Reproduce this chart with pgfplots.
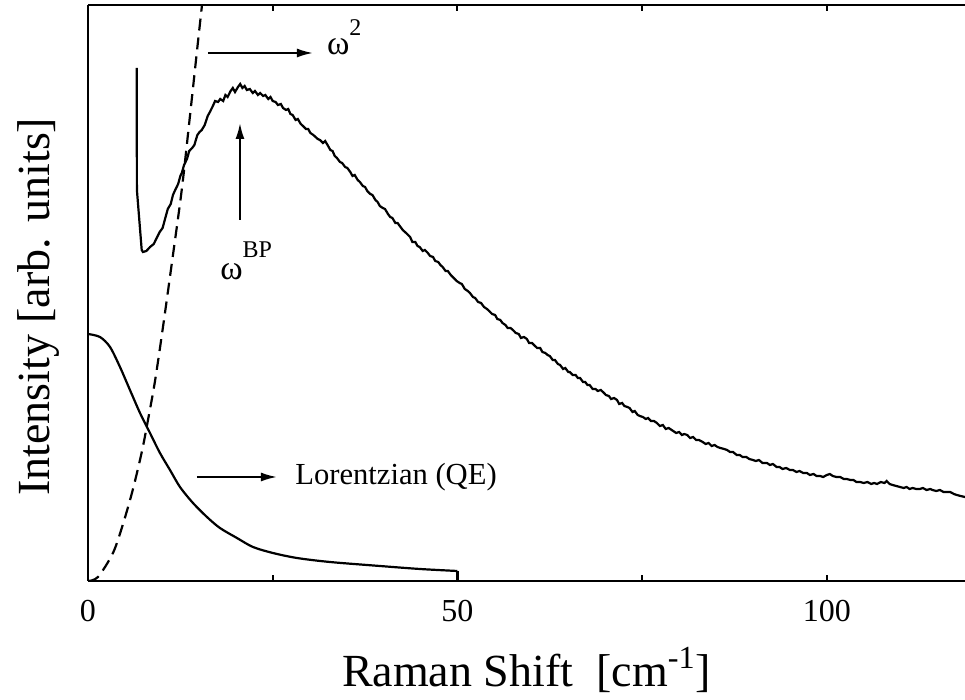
\documentclass[border=0pt]{standalone}
\usepackage{pgfplots}
\usepackage{pgfplotstable}
\pgfplotsset{compat=1.18}
\usepackage{fontspec}
\setmainfont{Liberation Serif}
\usetikzlibrary{arrows.meta}

% Measured Raman spectrum (arbitrary intensity units)
\pgfplotstableread{
x y
6.59 513
6.62 391
7.27 331
7.44 329
7.9 330
8.4 334
8.9 337
9.3 343
9.7 349
10.1 353
10.5 364
10.8 372
11.2 377
11.5 386
11.8 391
12.2 397
12.5 405
12.7 408
13.0 416
13.4 422
13.7 430
14.1 433
14.4 436
14.8 446
15.1 449
15.4 451
15.8 456
16.2 465
16.5 469
16.9 475
17.2 480
17.6 479
17.9 482
18.3 480
18.6 486
18.9 484
19.3 490
19.6 493
19.9 489
20.3 494
20.6 497
20.9 493
21.2 495
21.5 491
21.9 492
22.3 488
22.6 490
23.0 486
23.3 488
23.7 485
24.0 486
24.4 482
24.7 484
25.0 480
25.4 479
25.7 476
26.1 477
26.4 473
26.8 471
27.1 472
27.4 467
27.7 466
28.1 461
28.4 462
28.8 457
29.1 455
29.5 452
29.8 452
30.1 448
30.5 446
30.8 444
31.1 442
31.4 441
31.8 438
32.1 440
32.5 435
32.8 431
33.1 430
33.4 425
33.7 423
34.1 419
34.4 418
34.8 414
35.1 413
35.5 409
35.8 405
36.1 406
36.5 401
36.8 399
37.2 395
37.5 394
37.8 390
38.2 387
38.5 386
38.9 381
39.2 379
39.5 375
39.9 373
40.2 372
40.6 367
40.9 364
41.2 363
41.6 358
41.9 358
42.2 355
42.6 351
42.9 349
43.2 347
43.6 344
43.9 339
44.3 339
44.6 335
44.9 334
45.3 330
45.6 331
46.0 328
46.3 325
46.7 324
47.0 320
47.4 319
47.7 316
48.0 314
48.4 310
48.7 310
49.1 306
49.5 303
49.9 300
50.3 298
50.6 297
51.0 292
51.4 290
51.7 288
52.1 284
52.4 283
52.8 279
53.2 278
53.6 274
54.0 272
54.3 270
54.7 267
55.1 266
55.4 262
55.8 261
56.1 258
56.5 256
56.8 253
57.2 253
57.5 251
57.9 248
58.3 247
58.6 243
59.0 244
59.4 242
59.7 238
60.1 238
60.5 235
60.8 233
61.2 233
61.5 229
61.9 228
62.2 226
62.5 225
62.9 221
63.2 221
63.6 217
63.9 216
64.3 212
64.6 213
65.0 209
65.2 209
65.6 206
66.0 206
66.3 203
66.6 203
67.0 199
67.3 199
67.6 196
67.9 196
68.3 192
68.7 192
69.0 190
69.4 191
69.7 189
70.1 186
70.5 185
70.8 182
71.2 183
71.6 181
71.9 177
72.3 178
72.6 175
73.0 174
73.3 173
73.7 169
74.0 170
74.4 166
74.7 165
75.1 164
75.5 162
75.8 163
76.2 160
76.6 160
77.0 158
77.4 155
77.8 156
78.2 152
78.6 153
79.2 150
79.6 148
80.0 149
80.4 146
80.7 147
81.1 146
81.5 143
81.9 144
82.3 141
82.7 141
83.2 139
83.6 137
84.0 138
84.4 135
84.8 136
85.2 134
85.6 133
86.1 132
86.5 131
86.9 129
87.3 129
87.8 126
88.2 126
88.6 124
89.1 124
89.5 122
90.0 121
90.4 120
90.8 121
91.3 118
91.9 118
92.3 116
92.7 117
93.2 114
93.6 114
94.0 112
94.5 113
95.0 111
95.4 111
95.9 109
96.3 110
96.8 108
97.3 108
97.7 106
98.2 107
98.6 105
99.1 105
99.5 104
100.0 106
100.4 107
100.8 105
101.3 104
101.8 104
102.3 102
102.7 102
103.2 101
103.6 101
104.0 99
104.5 99
105.0 98
105.5 99
106.0 97
106.4 98
106.8 97
107.3 99
107.8 98
108.1 100
108.5 97
108.9 96
109.4 95
109.9 94
110.4 93
110.8 94
111.2 92
111.6 93
112.1 92
112.6 92
113.0 93
113.5 91
114.0 92
114.3 91
114.8 90
115.3 91
115.8 89
116.2 89
116.7 89
117.2 87
117.6 86
118.1 85
118.7 84
}\spectrum

% Quasi-elastic (Lorentzian) contribution
\pgfplotstableread{
x y
0 247
1.62 244
2.98 234
4.33 214
5.68 191
7.04 168
8.39 148
9.74 128
11.10 111
12.45 94
14.21 78
16.10 64
17.86 53
20.16 43
22.33 34
25.03 28
28.28 23
32.75 19
39.51 15
44.93 12
50.00 10
}\qe

% Debye omega^2 law
\pgfplotstableread{
x y
0 0
1.35 4
3.38 28
4.74 57
6.09 92
7.31 130
8.12 161
9.07 200
10.15 254
11.50 326
12.72 393
13.80 465
14.75 530
15.43 576
}\debye

\begin{document}
\begin{tikzpicture}
\begin{axis}[
  scale only axis,
  width=438.5pt, height=288pt,
  xmin=0, xmax=118.7, ymin=0, ymax=576,
  axis x line*=box, axis y line*=left,
  axis line style={line width=1pt},
  xtick={0,50,100}, minor xtick={25,75},
  ytick=\empty,
  tick align=inside,
  major tick length=3pt, minor tick length=3pt,
  every tick/.style={line width=1pt, black},
  /pgf/number format/assume math mode=true,
  tick label style={font=\fontsize{16}{16}\selectfont},
  xticklabel style={anchor=base, yshift=-20.5pt},
  xlabel={Raman Shift\ \ [cm\textsuperscript{-1}]},
  xlabel style={at={(rel axis cs:0.5,0)}, anchor=base, yshift=-53pt,
    font=\fontsize{23}{23}\selectfont},
  ylabel={Intensity [arb. units]},
  % the label is turned by 90 degrees, so its own y direction points left
  ylabel style={at={(rel axis cs:0,0.476)}, anchor=base,
    yshift=19pt, font=\fontsize{23}{23}\selectfont},
]
\addplot[black, line width=1.1pt] table[x=x, y=y] {\spectrum};
\addplot[black, line width=1.1pt, smooth] table[x=x, y=y] {\qe};
% the quasi-elastic curve stops at 50 cm^-1
\addplot[black, line width=1.1pt] coordinates {(50,10) (50,0)};
\addplot[black, line width=1.1pt, smooth, dash pattern=on 6pt off 3.5pt] table[x=x, y=y] {\debye};

% annotations
\draw[line width=1pt, -{Latex[length=8pt, width=4.5pt]}] (axis cs:16.24,528) -- (axis cs:30.45,528);
\node[anchor=base west, inner sep=0pt] at (axis cs:32.3,526)
  {\fontsize{17}{17}\selectfont ω\raisebox{9.5pt}{\fontsize{12}{12}\selectfont 2}};
\draw[line width=1pt, -{Latex[length=8pt, width=4.5pt]}] (axis cs:20.57,361) -- (axis cs:20.57,458);
\node[anchor=base west, inner sep=0pt] at (axis cs:17.86,301)
  {\fontsize{17}{17}\selectfont ω\raisebox{11pt}{\fontsize{12}{12}\selectfont BP}};
\draw[line width=1pt, -{Latex[length=8pt, width=4.5pt]}] (axis cs:14.75,104) -- (axis cs:25.58,104);
\node[anchor=base west, inner sep=0pt] at (axis cs:28.01,96)
  {\fontsize{15.3}{15.3}\selectfont Lorentzian (QE)};

\coordinate (bbsw) at ([shift={(-44pt,-59.5pt)}]rel axis cs:0,0);
\coordinate (bbne) at ([shift={(0pt,2.5pt)}]rel axis cs:1,1);
\end{axis}
\pgfresetboundingbox
\path[use as bounding box] (bbsw) rectangle (bbne);
\end{tikzpicture}
\end{document}
